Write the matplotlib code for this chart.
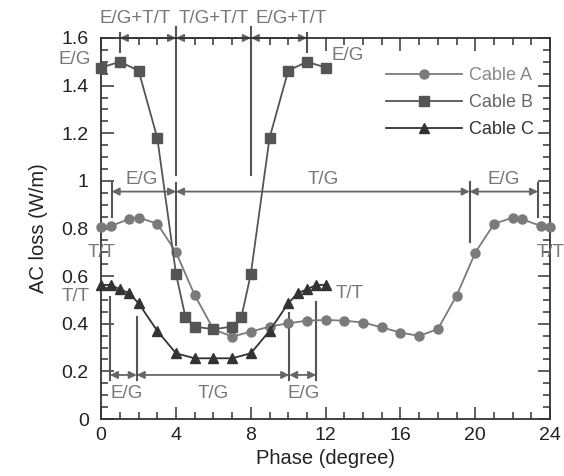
import matplotlib
matplotlib.use("Agg")
import matplotlib.pyplot as plt
from matplotlib.ticker import MultipleLocator

plt.rcParams['font.family'] = ['Liberation Sans', 'DejaVu Sans']

# Cable A (circles)
phase_a = [0, 0.5, 1.5, 2, 3, 4, 5, 6, 7, 8, 9, 10, 11, 12, 13, 14, 15, 16,
           17, 18, 19, 20, 21, 22, 22.5, 23.5, 24]
loss_a = [0.808, 0.81, 0.84, 0.846, 0.82, 0.70, 0.52, 0.377, 0.346, 0.367,
          0.388, 0.402, 0.413, 0.416, 0.413, 0.405, 0.385, 0.363, 0.349,
          0.378, 0.518, 0.699, 0.819, 0.846, 0.839, 0.811, 0.808]

# Cable B (squares)
phase_b = [0, 1, 2, 3, 4, 4.5, 5, 6, 7, 7.5, 8, 9, 10, 11, 12]
loss_b = [1.476, 1.50, 1.463, 1.18, 0.609, 0.43, 0.388, 0.377, 0.388, 0.43,
          0.609, 1.18, 1.463, 1.50, 1.476]

# Cable C (triangles)
phase_c = [0, 0.5, 1, 1.5, 2, 3, 4, 5, 6, 7, 8, 9, 10, 10.5, 11, 11.5, 12]
loss_c = [0.563, 0.563, 0.545, 0.528, 0.486, 0.37, 0.276, 0.255, 0.255,
          0.255, 0.276, 0.37, 0.486, 0.528, 0.545, 0.563, 0.563]

col_a, col_b, col_c = '#7a7a7a', '#555555', '#333333'
ann = '#777777'
line_col = '#555555'

fig = plt.figure(figsize=(5.64, 4.76), dpi=100)
ax = fig.add_axes([0.1794, 0.1197, 0.796, 0.8005])

ax.plot(phase_a, loss_a, '-o', color=col_a, lw=1.3, ms=6.5, clip_on=False,
        label='Cable A', zorder=3)
ax.plot(phase_b, loss_b, '-s', color=col_b, lw=1.3, ms=7.5, clip_on=False,
        label='Cable B', zorder=3)
ax.plot(phase_c, loss_c, '-^', color=col_c, lw=1.3, ms=7, clip_on=False,
        label='Cable C', zorder=3)

ax.set_xlim(0, 24)
ax.set_ylim(0, 1.6)
ax.xaxis.set_major_locator(MultipleLocator(4))
ax.xaxis.set_minor_locator(MultipleLocator(1))
ax.yaxis.set_minor_locator(MultipleLocator(0.05))
ax.set_yticks([0, 0.2, 0.4, 0.6, 0.8, 1.0, 1.2, 1.4, 1.6])
ax.set_yticklabels(['0', '0.2', '0.4', '0.6', '0.8', '1', '1.2', '1.4', '1.6'])
ax.tick_params(which='both', direction='in', top=True, right=True,
               colors='#333333', labelcolor='#222222', labelsize=14, width=1.1)
ax.tick_params(which='major', length=9)
ax.tick_params(which='minor', length=5)
ax.tick_params(axis='y', pad=9)
ax.tick_params(axis='x', pad=6)
for s in ax.spines.values():
    s.set_color('#333333')
    s.set_linewidth(1.3)

ax.set_xlabel('Phase (degree)', fontsize=14.5, color='#222222', labelpad=3)
ax.set_ylabel('AC loss (W/m)', fontsize=14.5, color='#222222', labelpad=10)

leg = ax.legend(loc='upper right', bbox_to_anchor=(1.0, 0.966), frameon=False,
                fontsize=13, handlelength=4.2, handletextpad=0.4,
                labelspacing=0.55)
for t, c in zip(leg.get_texts(), ['#888888', '#666666', '#333333']):
    t.set_color(c)


def vline(x, y0, y1):
    ax.plot([x, x], [y0, y1], color=line_col, lw=1.5, clip_on=False, zorder=2)


def darrow(x0, x1, y):
    ax.annotate('', xy=(x1, y), xytext=(x0, y),
                arrowprops=dict(arrowstyle='<|-|>', color='#666666', lw=1.3,
                                mutation_scale=11, shrinkA=0, shrinkB=0),
                annotation_clip=False, zorder=2)


def label(x, y, s, ha='center', size=13.5):
    ax.text(x, y, s, color=ann, fontsize=size, ha=ha, va='center',
            clip_on=False)


# top band
vline(1, 1.542, 1.622)
vline(11, 1.542, 1.622)
vline(4, 1.025, 1.647)
vline(8, 1.025, 1.647)
darrow(1, 4, 1.6)
darrow(4, 8, 1.6)
darrow(8, 11, 1.6)
label(1.8, 1.68, 'E/G+T/T')
label(6.0, 1.68, 'T/G+T/T')
label(10.15, 1.68, 'E/G+T/T')
label(-0.55, 1.508, 'E/G', ha='right')
label(13.2, 1.525, 'E/G')

# middle band
vline(0.56, 0.85, 0.99)
vline(4, 0.73, 0.99)
vline(19.7, 0.745, 0.997)
vline(23.35, 0.85, 0.99)
darrow(0.56, 4, 0.955)
darrow(4, 19.7, 0.955)
darrow(19.7, 23.35, 0.955)
label(2.17, 1.004, 'E/G')
label(11.85, 1.004, 'T/G')
label(21.54, 1.004, 'E/G')
label(0, 0.70, 'T/T')
label(24, 0.70, 'T/T')

# bottom band
vline(0.47, 0.164, 0.514)
vline(1.9, 0.164, 0.43)
vline(10.05, 0.164, 0.445)
vline(11.49, 0.164, 0.493)
darrow(0.47, 1.9, 0.185)
darrow(1.9, 10.05, 0.185)
darrow(10.05, 11.49, 0.185)
label(1.36, 0.108, 'E/G')
label(5.98, 0.108, 'T/G')
label(10.8, 0.108, 'E/G')
label(-0.6, 0.513, 'T/T', ha='right')
label(13.28, 0.528, 'T/T')

fig.savefig('out.png', dpi=100)
